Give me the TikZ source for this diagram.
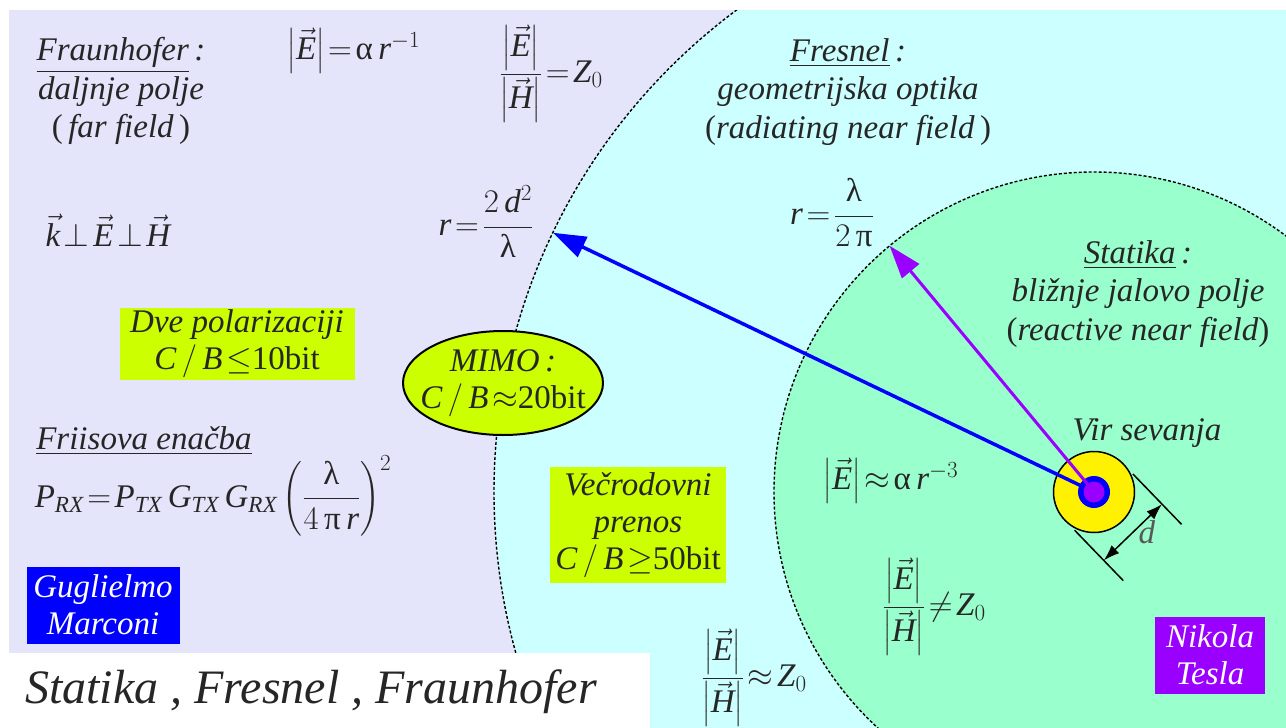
\RequirePackage{fix-cm}
\documentclass[tikz,border=0pt]{standalone}
\usepackage{amsmath}
\usepackage{fontspec}
\setmainfont{Liberation Serif}
\usetikzlibrary{positioning,arrows.meta,calc,shapes.geometric}
\definecolor{farbg}{HTML}{E4E4FA}
\definecolor{midbg}{HTML}{CCFFFF}
\definecolor{nearbg}{HTML}{99FFCC}
\definecolor{capgreen}{HTML}{CCFF00}
\definecolor{srcblue}{HTML}{0000FF}
\definecolor{srcviolet}{HTML}{9900FF}
\definecolor{ink}{HTML}{262626}
\thickmuskip=2mu plus 1mu
\newcommand{\absE}{\left|\vec{\mathit{E}}\right|}
\newcommand{\absH}{\left|\vec{\mathit{H}}\right|}
\newcommand{\lamup}{\textup{λ}}
\newcommand{\piup}{\textup{π}}
\newcommand{\alup}{\textup{α}}
\tikzset{
  lbl/.style={font=\fontsize{33}{38.5}\selectfont\itshape, text=ink, align=center, inner sep=0pt},
  tagbox/.style={lbl, font=\fontsize{33}{37}\selectfont\itshape, fill=capgreen},
  namebox/.style={tagbox, text=white},
  zone/.style={draw=black, line width=1.4pt, dash pattern=on 3pt off 2pt},
  ray/.style={-{Triangle[length=33pt,width=22pt]}},
  dimline/.style={line width=1.5pt}
}

\begin{document}
\begin{tikzpicture}[x=1pt,y=-1pt]
    \useasboundingbox (0,0) rectangle (1286,728);
    % field zones
    \fill[farbg] (9,10) rectangle (1286,728);
    \coordinate (srcpos) at (1094,492);
    \begin{scope}
      \clip (9,10) rectangle (1286,728);
      \fill[midbg] (srcpos) circle (600pt);
      \fill[nearbg] (srcpos) circle (320pt);
      \draw[zone] (srcpos) circle (600pt);
      \draw[zone] (srcpos) circle (320pt);
    \end{scope}
    \fill[white] (0,653) rectangle (650,728);

    % far field
    \node[lbl] (fraun) at (121,91) {\underline{Fraunhofer}\,:\\ daljnje polje\\ \textup{(}\,far field\,\textup{)}};
    \node[lbl] (efar) at (354,51) {\(\absE=\alup\,\mathit{r}^{-1}\)};
    \node[lbl] (zfar) at (551,74) {\(\dfrac{\absE}{\absH}=\mathit{Z}_0\)};
    \node[lbl] (kperp) at (108,230) {\(\vec{\mathit{k}}\perp\vec{\mathit{E}}\perp\vec{\mathit{H}}\)};
    \node[lbl] (rfar) at (486,222) {\(\mathit{r}=\dfrac{2\,\mathit{d}^{2}}{\lamup}\)};
    \node[tagbox, minimum width=235pt, minimum height=72pt] (dve) at (237,344) {Dve polarizaciji\\ \(\mathit{C}\,/\,\mathit{B}\leq\)\textup{10bit}};
    \node[tagbox, ellipse, draw=black, line width=2pt, inner xsep=-14pt, inner ysep=0pt, minimum width=200pt, minimum height=104pt] (mimo) at (503,383) {MIMO\,:\\ \(\mathit{C}\,/\,\mathit{B}\approx\)\textup{20bit}};
    \node[lbl] (friist) at (144,441) {\underline{Friisova enačba}};
    \node[lbl] (friis) at (213,496) {\(\mathit{P}_{\mathit{RX}}=\mathit{P}_{\mathit{TX}}\,\mathit{G}_{\mathit{TX}}\,\mathit{G}_{\mathit{RX}}\left(\dfrac{\lamup}{4\,\piup\,\mathit{r}}\right)^{2}\)};
    \node[namebox, fill=srcblue, minimum width=153pt, minimum height=77pt] (marconi) at (103,605) {Guglielmo\\ Marconi};
    \node[lbl, font=\fontsize{48}{54}\selectfont\itshape, anchor=west] (title) at (25,692) {Statika , Fresnel , Fraunhofer};

    % radiating near field
    \node[lbl] (fresnel) at (848,92) {\underline{Fresnel}\,:\\ geometrijska optika\\ \textup{(}radiating near field\,\textup{)}};
    \node[lbl] (rnear) at (832,213) {\(\mathit{r}=\dfrac{\lamup}{2\,\piup}\)};
    \node[tagbox, minimum width=176pt, minimum height=116pt] (vecrod) at (638,525) {Večrodovni\\ prenos\\ \(\mathit{C}\,/\,\mathit{B}\geq\)\textup{50bit}};
    \node[lbl] (zmid) at (754,678) {\(\dfrac{\absE}{\absH}\approx\mathit{Z}_0\)};

    % reactive near field
    \node[lbl] (statika) at (1138,294) {\underline{Statika}\,:\\ bližnje jalovo polje\\ \textup{(}reactive near field\textup{)}};
    \node[lbl] (enear) at (891,481) {\(\absE\approx\alup\,\mathit{r}^{-3}\)};
    \node[lbl] (znear) at (934,607) {\(\dfrac{\absE}{\absH}\neq\mathit{Z}_0\)};
    \node[lbl] (vir) at (1147,433) {Vir sevanja};
    \node[namebox, fill=srcviolet, minimum width=110pt, minimum height=77pt] (tesla) at (1210,655) {Nikola\\ Tesla};

    % source and radii
    \node[circle, draw=black, line width=1.5pt, fill=yellow, minimum size=81pt, inner sep=0pt] (src) at (srcpos) {};
    \coordinate (farpt) at ($(src)+(205.6:600)$);
    \coordinate (nearpt) at ($(src)+(230.3:320)$);
    \draw[ray, srcblue, line width=3.5pt] (src.center) -- (farpt);
    \node[circle, fill=srcblue, minimum size=32pt, inner sep=0pt] (ring) at (src) {};
    \draw[ray, srcviolet, line width=3pt] (src.center) -- (nearpt);
    \node[circle, fill=srcviolet, minimum size=21pt, inner sep=0pt] (core) at (src) {};

    % diameter d
    \coordinate (tanA) at ($(src)+(316:40.5)$);
    \coordinate (tanB) at ($(src)+(136:40.5)$);
    \draw[dimline] ($(tanA)+(46:14)$) -- ($(tanA)+(46:84)$);
    \draw[dimline] ($(tanB)+(46:14)$) -- ($(tanB)+(46:84)$);
    \coordinate (dimA) at ($(tanA)+(46:56)$);
    \coordinate (dimB) at ($(tanB)+(46:56)$);
    \draw[dimline, {Latex[length=16pt,width=11pt]}-{Latex[length=16pt,width=11pt]}] (dimA) -- (dimB)
      node[midway, right=5pt, lbl, text=black!65] (dlab) {d};
  \end{tikzpicture}
\end{document}
